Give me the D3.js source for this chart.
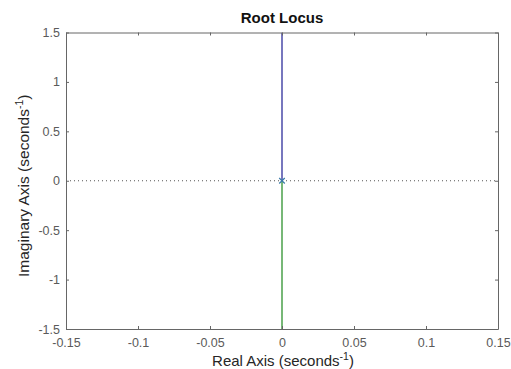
<!DOCTYPE html>
<html>
<head>
<meta charset="utf-8">
<script src="https://cdn.jsdelivr.net/npm/d3@7"></script>
<style>
  body { margin: 0; background: #fff; }
  text { font-family: "Liberation Sans", Arial, sans-serif; }
</style>
</head>
<body>
<svg id="chart" width="511" height="369"></svg>
<script>
// axis ranges and tick labels
const xTicks = [-0.15, -0.1, -0.05, 0, 0.05, 0.1, 0.15];
const yTicks = [-1.5, -1, -0.5, 0, 0.5, 1, 1.5];
const xDomain = [-0.15, 0.15];
const yDomain = [-1.5, 1.5];

// root locus branches (real, imag)
const branchUp = [[0, 0], [0, 1.5]];
const branchDown = [[0, 0], [0, -1.5]];
const poles = [[0, 0]];

const margin = {top: 32.5, right: 13, bottom: 40, left: 66};
const width = 511 - margin.left - margin.right;
const height = 369 - margin.top - margin.bottom;

const svg = d3.select("#chart");
const g = svg.append("g")
  .attr("transform", "translate(" + margin.left + "," + margin.top + ")");

const x = d3.scaleLinear().domain(xDomain).range([0, width]);
const y = d3.scaleLinear().domain(yDomain).range([height, 0]);

// clip for the plotted lines
g.append("clipPath").attr("id", "clip")
  .append("rect").attr("width", width).attr("height", height);

// dotted line along the real axis
g.append("line")
  .attr("x1", 0).attr("x2", width)
  .attr("y1", y(0)).attr("y2", y(0))
  .attr("stroke", "#555")
  .attr("stroke-width", 1)
  .attr("stroke-dasharray", "1,3");

const line = d3.line().x(d => x(d[0])).y(d => y(d[1]));

g.append("path").datum(branchUp)
  .attr("d", line).attr("clip-path", "url(#clip)")
  .attr("fill", "none").attr("stroke", "#4a4aa8").attr("stroke-width", 1.5);

g.append("path").datum(branchDown)
  .attr("d", line).attr("clip-path", "url(#clip)")
  .attr("fill", "none").attr("stroke", "#4aa04a").attr("stroke-width", 1.5);

// pole markers
g.selectAll(".pole").data(poles).enter()
  .append("path")
  .attr("class", "pole")
  .attr("d", d3.symbol().type(d3.symbolX).size(22))
  .attr("transform", d => "translate(" + x(d[0]) + "," + y(d[1]) + ")")
  .attr("fill", "none")
  .attr("stroke", "#3a7aa8")
  .attr("stroke-width", 1.2);

// axes: ticks point inward, mirrored on top and right
const fmt = d => String(d);
const axisColor = "#666";
const tickLen = 3;

const xAxis = g.append("g")
  .attr("transform", "translate(0," + height + ")")
  .call(d3.axisBottom(x).tickValues(xTicks).tickFormat(fmt).tickSizeInner(-tickLen).tickSizeOuter(0).tickPadding(9));
const xTop = g.append("g")
  .call(d3.axisTop(x).tickValues(xTicks).tickFormat("").tickSizeInner(-tickLen).tickSizeOuter(0));
const yAxis = g.append("g")
  .call(d3.axisLeft(y).tickValues(yTicks).tickFormat(fmt).tickSizeInner(-tickLen).tickSizeOuter(0).tickPadding(6));
const yRight = g.append("g")
  .attr("transform", "translate(" + width + ",0)")
  .call(d3.axisRight(y).tickValues(yTicks).tickFormat("").tickSizeInner(-tickLen).tickSizeOuter(0));

[xAxis, xTop, yAxis, yRight].forEach(a => {
  a.select(".domain").attr("stroke", axisColor);
  a.selectAll(".tick line").attr("stroke", axisColor);
  a.selectAll(".tick text")
    .attr("fill", "#5a5a5a")
    .style("font-size", "12.5px")
    .style("font-family", "'Liberation Sans', Arial, sans-serif");
});

// title
svg.append("text")
  .attr("x", margin.left + width / 2)
  .attr("y", 22.5)
  .attr("text-anchor", "middle")
  .style("font-size", "15px")
  .style("font-weight", "bold")
  .attr("fill", "#111")
  .text("Root Locus");

// x label
const xl = svg.append("text")
  .attr("x", margin.left + width / 2 + 1)
  .attr("y", 366)
  .attr("text-anchor", "middle")
  .style("font-size", "15px")
  .attr("fill", "#262626");
xl.append("tspan").text("Real Axis (seconds");
xl.append("tspan").attr("dy", -6).style("font-size", "10.5px").text("-1");
xl.append("tspan").attr("dy", 6).text(")");

// y label
const yl = svg.append("text")
  .attr("transform", "translate(28.5," + (margin.top + height / 2 + 5) + ") rotate(-90)")
  .attr("text-anchor", "middle")
  .style("font-size", "15.5px")
  .attr("fill", "#262626");
yl.append("tspan").text("Imaginary Axis (seconds");
yl.append("tspan").attr("dy", -6).style("font-size", "10.5px").text("-1");
yl.append("tspan").attr("dy", 6).text(")");
</script>
</body>
</html>
